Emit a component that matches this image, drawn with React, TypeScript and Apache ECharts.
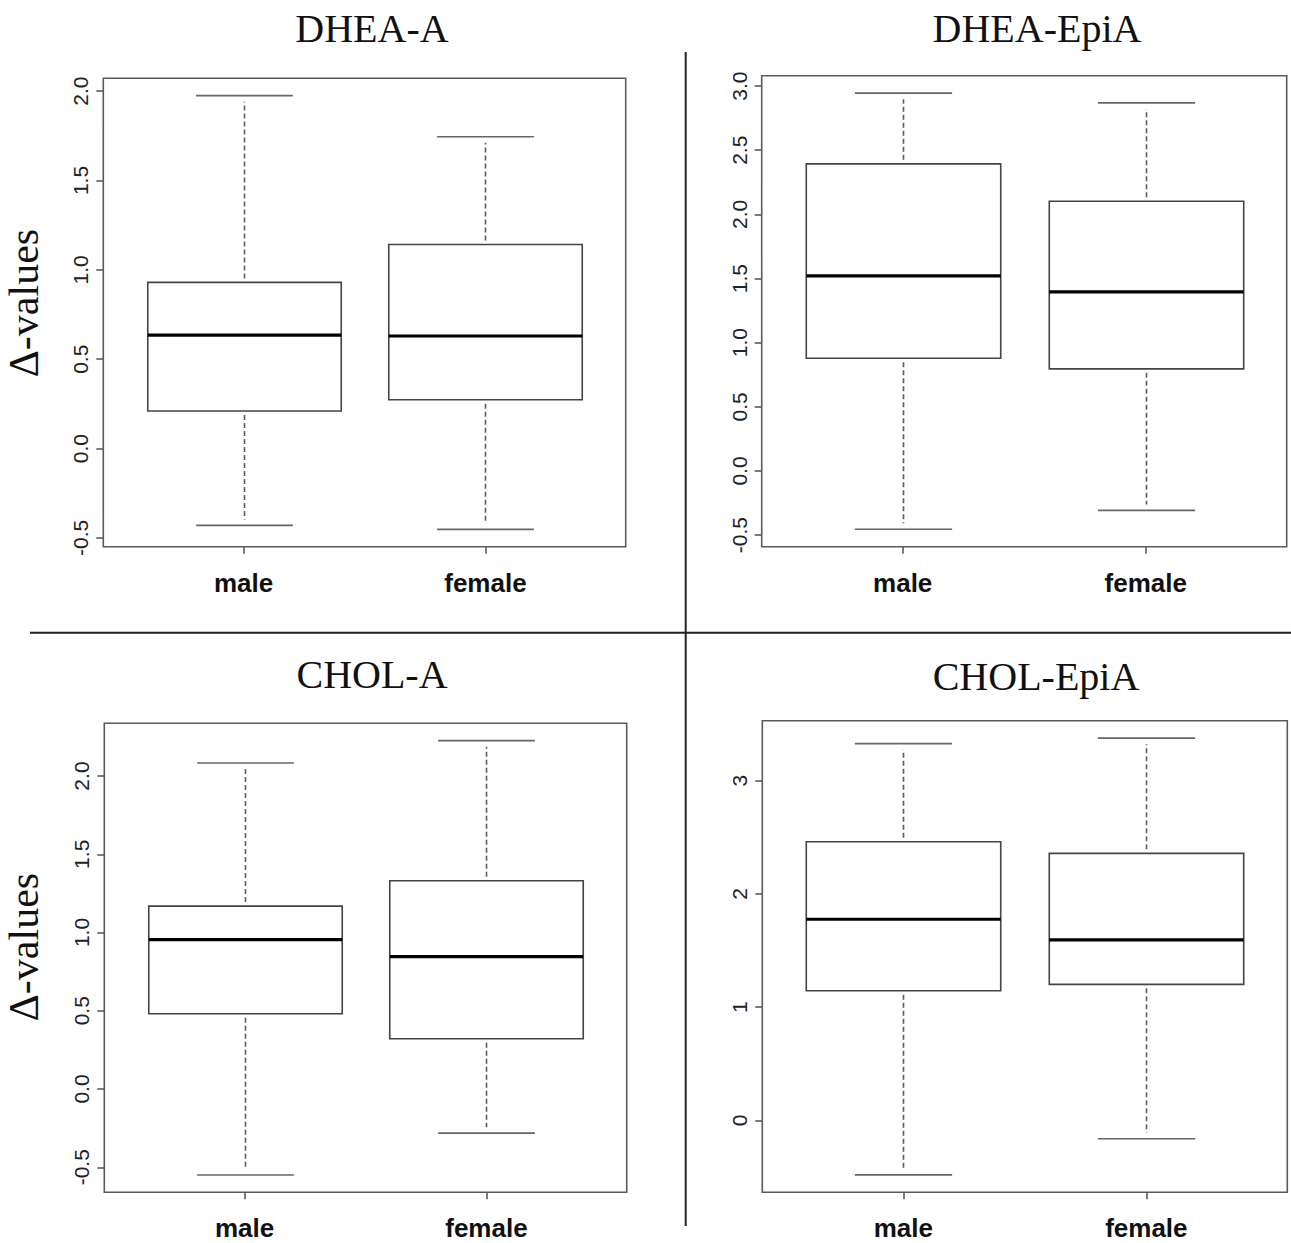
import React, { useEffect, useRef } from "react";
import * as echarts from "echarts";

// ---------- data ----------
const CATEGORIES = ["male", "female"];
const PANEL_TITLES = ["DHEA-A", "DHEA-EpiA", "CHOL-A", "CHOL-EpiA"];
const Y_AXIS_NAME = "Δ-values";

// [lower whisker, Q1, median, Q3, upper whisker]
const DHEA_A_MALE = [-0.43, 0.21, 0.635, 0.93, 1.975];
const DHEA_A_FEMALE = [-0.452, 0.273, 0.63, 1.142, 1.745];
const DHEA_EPIA_MALE = [-0.454, 0.879, 1.521, 2.394, 2.945];
const DHEA_EPIA_FEMALE = [-0.307, 0.796, 1.396, 2.103, 2.869];
const CHOL_A_MALE = [-0.549, 0.481, 0.955, 1.169, 2.083];
const CHOL_A_FEMALE = [-0.282, 0.321, 0.846, 1.331, 2.226];
const CHOL_EPIA_MALE = [-0.481, 1.145, 1.776, 2.46, 3.327];
const CHOL_EPIA_FEMALE = [-0.162, 1.201, 1.593, 2.358, 3.375];

const TICKS_DHEA_A = [-0.5, 0, 0.5, 1, 1.5, 2];
const TICKS_DHEA_EPIA = [-0.5, 0, 0.5, 1, 1.5, 2, 2.5, 3];
const TICKS_CHOL_A = [-0.5, 0, 0.5, 1, 1.5, 2];
const TICKS_CHOL_EPIA = [0, 1, 2, 3];

const PANEL_DATA = [
  [DHEA_A_MALE, DHEA_A_FEMALE],
  [DHEA_EPIA_MALE, DHEA_EPIA_FEMALE],
  [CHOL_A_MALE, CHOL_A_FEMALE],
  [CHOL_EPIA_MALE, CHOL_EPIA_FEMALE],
];
const PANEL_TICKS = [TICKS_DHEA_A, TICKS_DHEA_EPIA, TICKS_CHOL_A, TICKS_CHOL_EPIA];
const PANEL_DECIMALS = [1, 1, 1, 0];

// ---------- layout ----------
const W = 1291;
const H = 1243;
const GRIDS = [
  { left: 103.3, top: 78.3, width: 522.4, height: 468.4 },
  { left: 761.7, top: 75.7, width: 525, height: 471 },
  { left: 104.3, top: 723.3, width: 522.4, height: 469 },
  { left: 762.3, top: 720.7, width: 525, height: 471.6 },
];
const TITLE_POS = [
  [372, 28],
  [1037, 28],
  [372, 674],
  [1036, 676],
];
const YNAME_POS = [
  [24, 303],
  [24, 947],
];
const X_MIN = 0.42;
const X_MAX = 2.58;
const BOX_W = 0.8;
const CAP_W = 0.4;
const SANS = "Liberation Sans";
const SERIF = "Liberation Serif";

function renderBox(params: any, api: any) {
  const x = api.value(0);
  const lo = api.coord([x, api.value(1)]);
  const q1 = api.coord([x, api.value(2)]);
  const md = api.coord([x, api.value(3)]);
  const q3 = api.coord([x, api.value(4)]);
  const hi = api.coord([x, api.value(5)]);
  const bw = api.size([BOX_W, 0])[0];
  const cw = api.size([CAP_W, 0])[0];
  const cx = Math.round(lo[0]) + 0.5;
  const boxStroke = "#444444";
  const whisk = "#5c5c5c";
  return {
    type: "group",
    children: [
      {
        type: "line",
        shape: { x1: cx, y1: q3[1] - 4, x2: cx, y2: hi[1] + 6 },
        style: { stroke: whisk, lineWidth: 1.6, lineDash: [5, 3] },
      },
      {
        type: "line",
        shape: { x1: cx, y1: q1[1] + 4, x2: cx, y2: lo[1] - 6 },
        style: { stroke: whisk, lineWidth: 1.6, lineDash: [5, 3] },
      },
      {
        type: "line",
        shape: { x1: cx - cw / 2, y1: hi[1], x2: cx + cw / 2, y2: hi[1] },
        style: { stroke: "#666666", lineWidth: 1.6 },
      },
      {
        type: "line",
        shape: { x1: cx - cw / 2, y1: lo[1], x2: cx + cw / 2, y2: lo[1] },
        style: { stroke: "#666666", lineWidth: 1.6 },
      },
      {
        type: "rect",
        shape: { x: cx - bw / 2, y: q3[1], width: bw, height: q1[1] - q3[1] },
        style: { fill: "#ffffff", stroke: boxStroke, lineWidth: 1.6 },
      },
      {
        type: "line",
        shape: { x1: cx - bw / 2, y1: md[1], x2: cx + bw / 2, y2: md[1] },
        style: { stroke: "#000000", lineWidth: 3.2 },
      },
    ],
  };
}

function buildOption() {
  const grid: any[] = [];
  const xAxis: any[] = [];
  const yAxis: any[] = [];
  const series: any[] = [];
  const graphic: any[] = [];

  PANEL_DATA.forEach((groups, i) => {
    const all = groups.flat();
    const dmin = Math.min(...all);
    const dmax = Math.max(...all);
    const pad = (dmax - dmin) * 0.04;
    const ticks = PANEL_TICKS[i];
    const dec = PANEL_DECIMALS[i];

    grid.push({
      ...GRIDS[i],
      show: true,
      borderColor: "#5a5a5a",
      borderWidth: 1.6,
      backgroundColor: "transparent",
      containLabel: false,
    });
    xAxis.push({
      gridIndex: i,
      type: "value",
      position: "bottom",
      min: X_MIN,
      max: X_MAX,
      axisLine: { show: false, onZero: false },
      splitLine: { show: false },
      axisTick: {
        show: true,
        customValues: [1, 2],
        length: 7,
        lineStyle: { color: "#5a5a5a", width: 1.6 },
      },
      axisLabel: {
        show: true,
        customValues: [1, 2],
        formatter: (v: number) => CATEGORIES[Math.round(v) - 1] ?? "",
        fontFamily: SANS,
        fontWeight: "bold",
        fontSize: 26,
        color: "#111111",
        margin: 23,
      },
    });
    yAxis.push({
      gridIndex: i,
      type: "value",
      position: "left",
      min: dmin - pad,
      max: dmax + pad,
      axisLine: { show: false, onZero: false },
      splitLine: { show: false },
      axisTick: {
        show: true,
        customValues: ticks,
        length: 7,
        lineStyle: { color: "#5a5a5a", width: 1.6 },
      },
      axisLabel: {
        show: true,
        customValues: ticks,
        rotate: 90,
        margin: 12,
        formatter: (v: number) => v.toFixed(dec),
        fontFamily: SANS,
        fontSize: 21,
        color: "#222222",
      },
    });
    series.push({
      type: "custom",
      xAxisIndex: i,
      yAxisIndex: i,
      renderItem: renderBox,
      encode: { x: 0, y: [1, 2, 3, 4, 5] },
      data: groups.map((g, k) => [k + 1, ...g]),
      silent: true,
    });
    graphic.push({
      type: "text",
      x: TITLE_POS[i][0],
      y: TITLE_POS[i][1],
      style: {
        text: PANEL_TITLES[i],
        font: `40px "${SERIF}"`,
        fill: "#111111",
        align: "center",
        verticalAlign: "middle",
        textAlign: "center",
        textVerticalAlign: "middle",
      },
    });
  });

  YNAME_POS.forEach(([x, y]) => {
    graphic.push({
      type: "text",
      x,
      y,
      rotation: Math.PI / 2,
      style: {
        text: Y_AXIS_NAME,
        font: `42px "${SERIF}"`,
        fill: "#111111",
        align: "center",
        verticalAlign: "middle",
        textAlign: "center",
        textVerticalAlign: "middle",
      },
    });
  });

  graphic.push({
    type: "line",
    shape: { x1: 685.7, y1: 52, x2: 685.7, y2: 1226 },
    style: { stroke: "#222222", lineWidth: 2 },
  });
  graphic.push({
    type: "line",
    shape: { x1: 30, y1: 632.7, x2: W, y2: 632.7 },
    style: { stroke: "#222222", lineWidth: 2 },
  });

  return {
    animation: false,
    backgroundColor: "#ffffff",
    grid,
    xAxis,
    yAxis,
    series,
    graphic,
  };
}

export default function App() {
  const ref = useRef<HTMLDivElement>(null);
  useEffect(() => {
    if (!ref.current) return;
    const chart = echarts.init(ref.current, null, { renderer: "svg" });
    chart.setOption(buildOption() as any);
    return () => chart.dispose();
  }, []);
  return (
    <div
      ref={ref}
      style={{ position: "absolute", left: 0, top: 0, width: W, height: H }}
    />
  );
}
